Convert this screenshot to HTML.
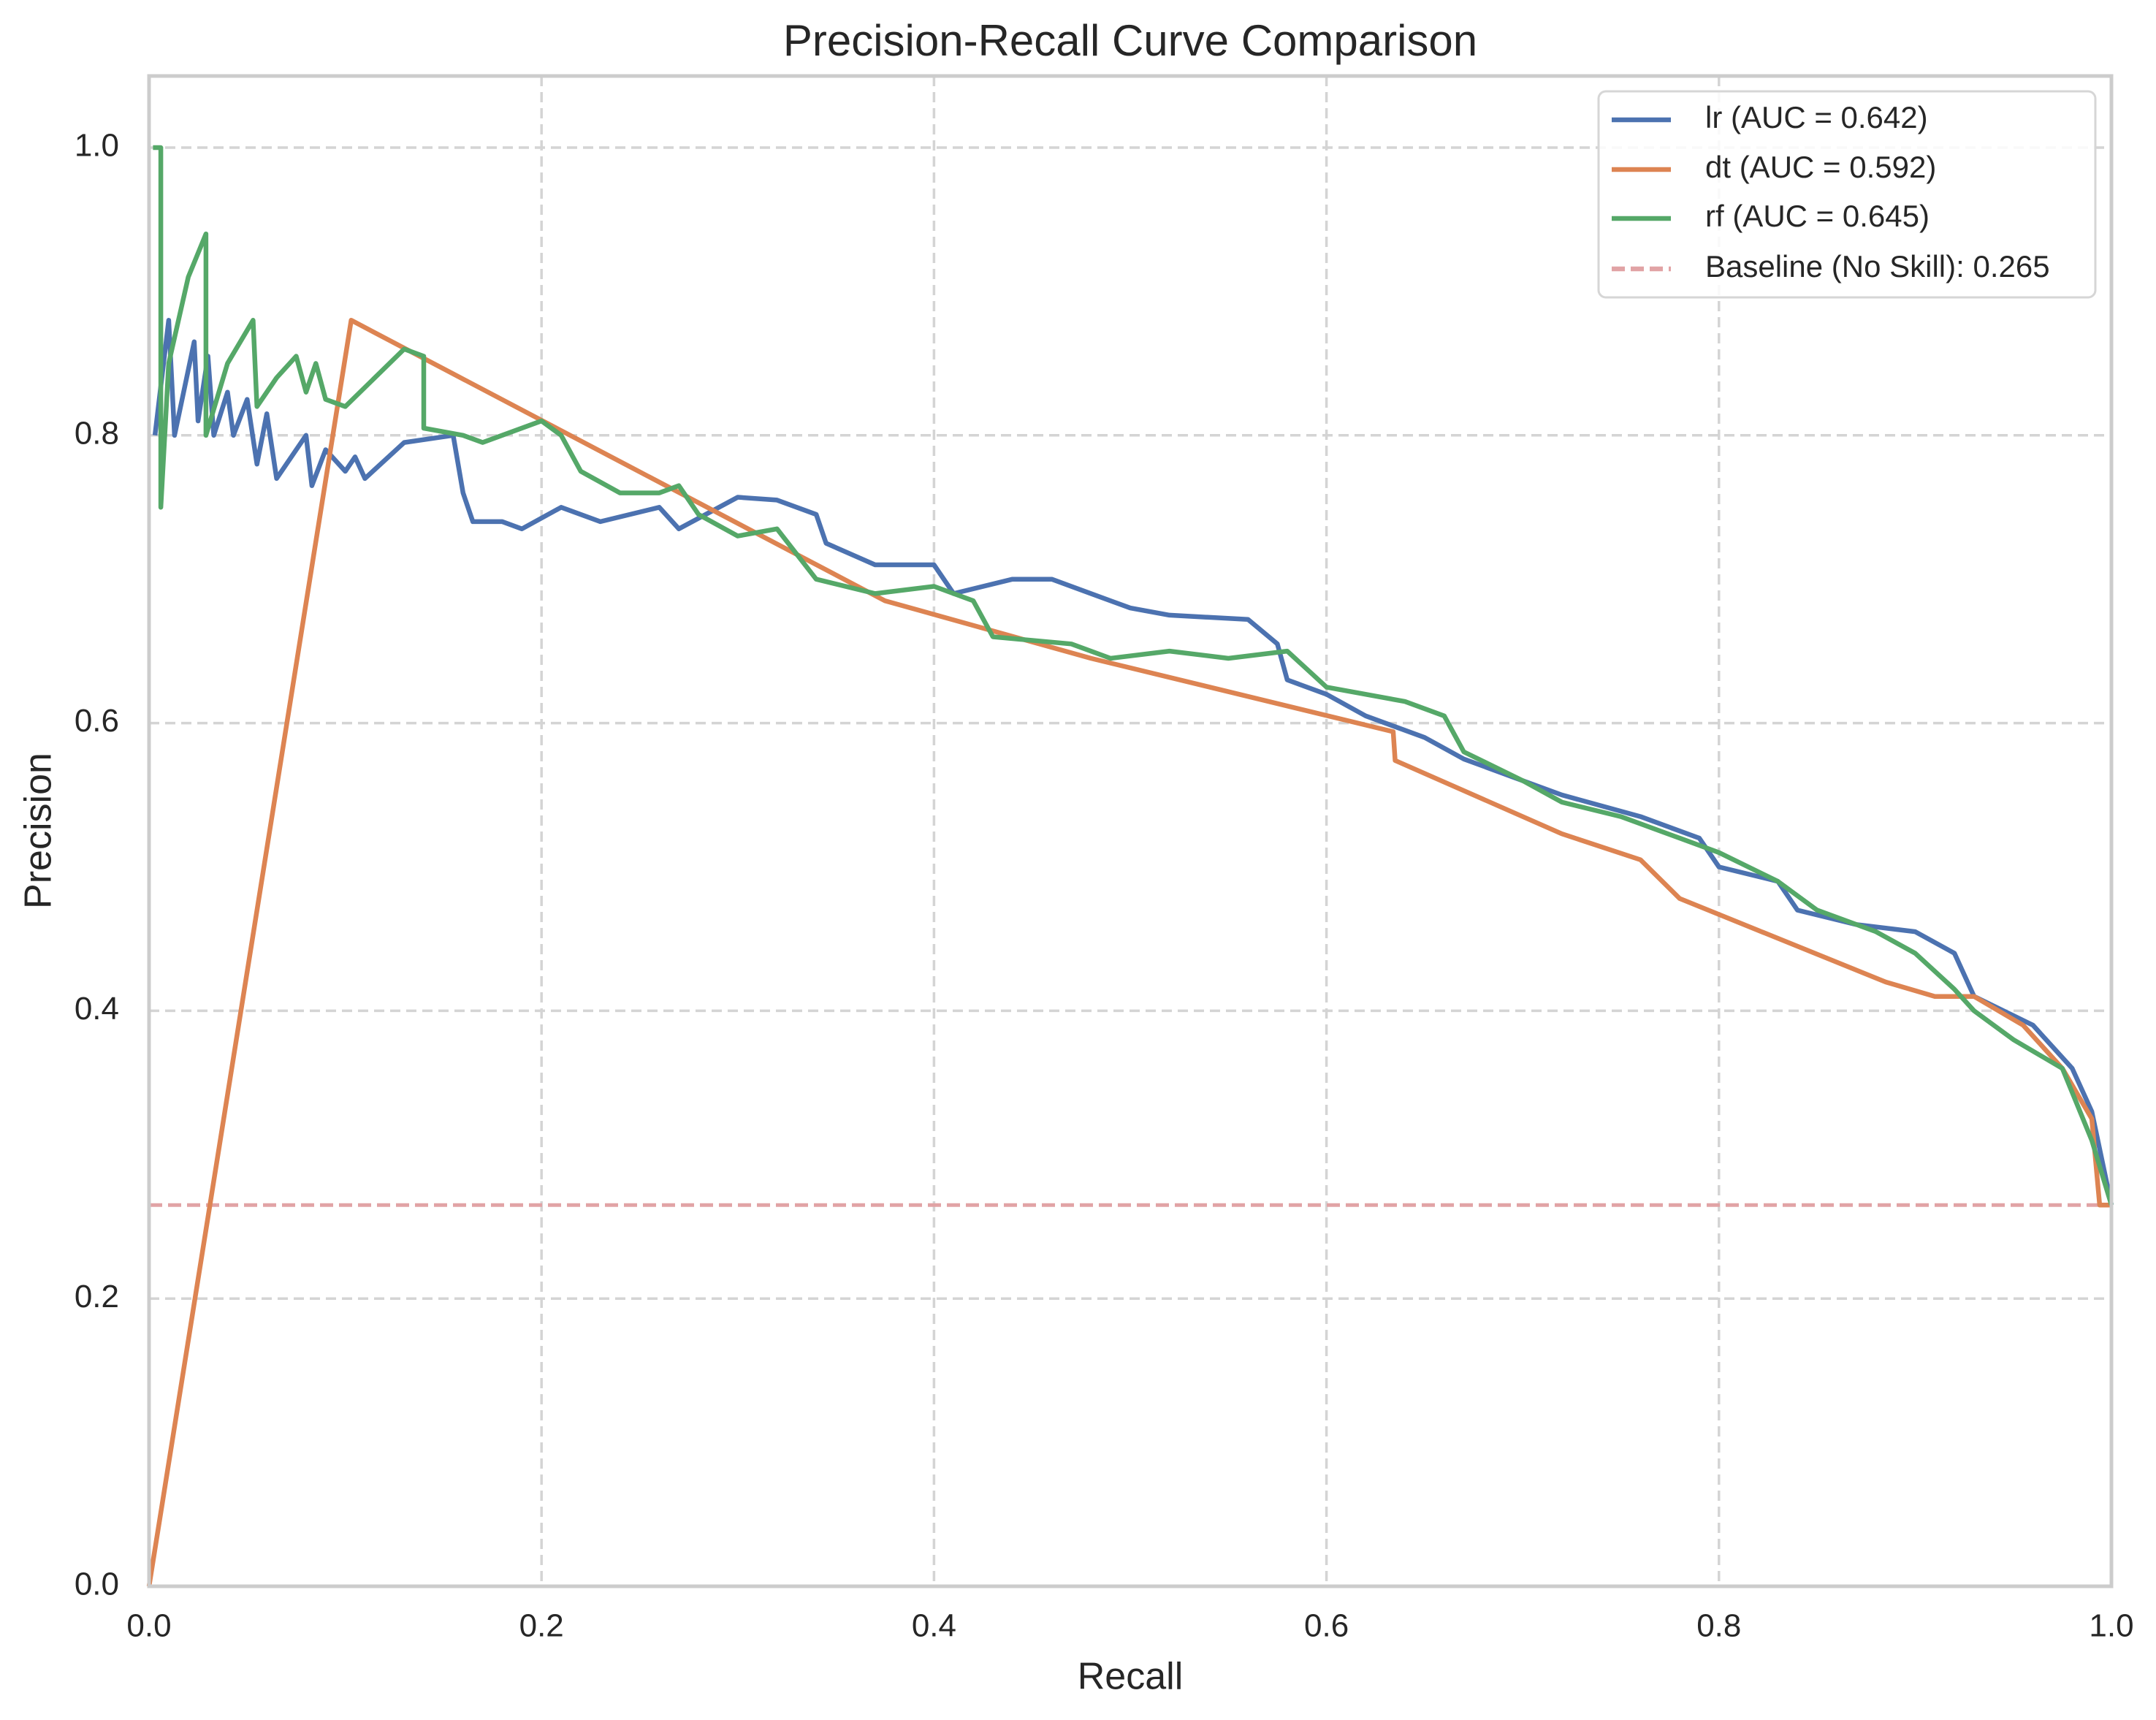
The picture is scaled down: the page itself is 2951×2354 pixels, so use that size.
<!DOCTYPE html>
<html><head><meta charset="utf-8"><style>
html,body{margin:0;padding:0;background:#fff;}
svg{display:block;font-family:"Liberation Sans",Arial,sans-serif;}
</style></head><body>
<svg id="chart" width="2951" height="2354" viewBox="0 0 2951 2354">
<rect width="2951" height="2354" fill="#fff"/>
<g id="grid"></g>
<g id="series"></g>
<rect x="204" y="104" width="2686" height="2067" fill="none" stroke="#cccccc" stroke-width="5"/>
<g id="ticks"></g>
<text x="1547" y="60" font-size="60" fill="#262626" text-anchor="middle" dominant-baseline="middle">Precision-Recall Curve Comparison</text>
<text x="1547" y="2298" font-size="52" fill="#262626" text-anchor="middle" dominant-baseline="middle">Recall</text>
<text x="56" y="1137" font-size="52" fill="#262626" text-anchor="middle" dominant-baseline="middle" transform="rotate(-90 56 1137)">Precision</text>
<g id="legend">
<rect x="2188" y="125" width="680" height="282" rx="10" fill="#fff" fill-opacity="0.85" stroke="#d6d6d6" stroke-width="3"/>
</g>
</svg>
<script>
const recallTicks=[0,0.2,0.4,0.6,0.8,1.0];
const precisionTicks=[0,0.2,0.4,0.6,0.8,1.0];
const tickLabels=["0.0","0.2","0.4","0.6","0.8","1.0"];
const seriesNames=["lr (AUC = 0.642)","dt (AUC = 0.592)","rf (AUC = 0.645)"];
const baselineValue=0.265;
const baselineLabel="Baseline (No Skill): 0.265";
const lrRecall=[0.003,0.01,0.013,0.023,0.025,0.03,0.033,0.04,0.043,0.05,0.055,0.06,0.065,0.08,0.083,0.09,0.1,0.105,0.11,0.13,0.155,0.16,0.165,0.18,0.19,0.21,0.23,0.26,0.27,0.3,0.32,0.34,0.345,0.37,0.4,0.41,0.44,0.46,0.48,0.5,0.52,0.56,0.575,0.58,0.6,0.62,0.65,0.67,0.7,0.72,0.76,0.79,0.8,0.83,0.84,0.87,0.9,0.92,0.93,0.96,0.98,0.99,1.0];
const lrPrecision=[0.80,0.88,0.80,0.865,0.81,0.855,0.80,0.83,0.80,0.825,0.78,0.815,0.77,0.80,0.765,0.79,0.775,0.785,0.77,0.795,0.80,0.76,0.74,0.74,0.735,0.75,0.74,0.75,0.735,0.757,0.755,0.745,0.725,0.71,0.71,0.69,0.70,0.70,0.69,0.68,0.675,0.672,0.655,0.63,0.62,0.605,0.59,0.575,0.56,0.55,0.535,0.52,0.50,0.49,0.47,0.46,0.455,0.44,0.41,0.39,0.36,0.33,0.265];
const dtRecall=[0,0.103,0.375,0.48,0.634,0.635,0.72,0.76,0.78,0.885,0.91,0.93,0.955,0.975,0.99,0.994,1.0];
const dtPrecision=[0,0.88,0.685,0.645,0.594,0.574,0.523,0.505,0.478,0.42,0.41,0.41,0.39,0.36,0.325,0.265,0.265];
const rfRecall=[0.002,0.006,0.006,0.01,0.02,0.029,0.029,0.04,0.053,0.055,0.065,0.075,0.08,0.085,0.09,0.1,0.13,0.14,0.14,0.16,0.17,0.2,0.21,0.22,0.24,0.26,0.27,0.28,0.3,0.32,0.34,0.37,0.4,0.42,0.43,0.47,0.49,0.52,0.55,0.58,0.6,0.64,0.66,0.67,0.7,0.72,0.75,0.78,0.8,0.83,0.85,0.88,0.9,0.92,0.93,0.95,0.975,0.99,1.0];
const rfPrecision=[1.0,1.0,0.75,0.85,0.91,0.94,0.80,0.85,0.88,0.82,0.84,0.855,0.83,0.85,0.825,0.82,0.86,0.855,0.805,0.80,0.795,0.81,0.80,0.775,0.76,0.76,0.765,0.745,0.73,0.735,0.70,0.69,0.695,0.685,0.66,0.655,0.645,0.65,0.645,0.65,0.625,0.615,0.605,0.58,0.56,0.545,0.535,0.52,0.51,0.49,0.47,0.455,0.44,0.415,0.40,0.38,0.36,0.31,0.265];

const NS="http://www.w3.org/2000/svg";
const X0=204,X1=2890,Y0=2171,Y1=202;
function xs(v){return X0+v*(X1-X0);}
function ys(v){return Y0-v*(Y0-Y1);}
function mk(t,a,p){const e=document.createElementNS(NS,t);for(const k in a)e.setAttribute(k,a[k]);p.appendChild(e);return e;}
const grid=document.getElementById('grid'),ticks=document.getElementById('ticks'),series=document.getElementById('series'),legend=document.getElementById('legend');
recallTicks.forEach((v,i)=>{
  if(v>0&&v<1){const g=mk('line',{x1:xs(v),x2:xs(v),y1:104,y2:2171,stroke:'#d4d4d4','stroke-width':3.5,'stroke-dasharray':'14,8'},grid);
  
  }
  const t=mk('text',{x:xs(v),y:2228,'font-size':44,fill:'#262626','text-anchor':'middle','dominant-baseline':'middle'},ticks);t.textContent=tickLabels[i];
  
  
});
precisionTicks.forEach((v,i)=>{
  if(v>0){const g=mk('line',{x1:204,x2:2890,y1:ys(v),y2:ys(v),stroke:'#d4d4d4','stroke-width':3.5,'stroke-dasharray':'14,8'},grid);
  
  }
  const t=mk('text',{x:163,y:ys(v),'font-size':44,fill:'#262626','text-anchor':'end','dominant-baseline':'middle'},ticks);t.textContent=tickLabels[i];
  
  
});
const bl=mk('line',{x1:xs(0),x2:xs(1),y1:ys(baselineValue),y2:ys(baselineValue),stroke:'#e1a3a5','stroke-width':5,'stroke-dasharray':'18,8'},series);


const cols=['#4c72b0','#dd8452','#55a868'];
const data=[[lrRecall,lrPrecision],[dtRecall,dtPrecision],[rfRecall,rfPrecision]];
const names=['lr-curve','dt-curve','rf-curve'];
data.forEach((d,i)=>{
  const pts=d[0].map((r,j)=>xs(r).toFixed(1)+','+ys(d[1][j]).toFixed(1)).join(' ');
  const p=mk('polyline',{points:pts,fill:'none',stroke:cols[i],'stroke-width':6.5,'stroke-linejoin':'round'},series);
  
  
});
const legCols=cols.concat(['#e1a3a5']);
const legTexts=seriesNames.concat([baselineLabel]);
const rowsY=[164,232,299,368];
legTexts.forEach((s,i)=>{
  const l=mk('line',{x1:2206,x2:2287,y1:rowsY[i],y2:rowsY[i],stroke:legCols[i],'stroke-width':6.5},legend);
  if(i===3)l.setAttribute('stroke-dasharray','18,8');
  
  
  const t=mk('text',{x:2334,y:rowsY[i],'font-size':42,fill:'#262626','dominant-baseline':'middle'},legend);t.textContent=s;
  
  
});
</script>
</body></html>
